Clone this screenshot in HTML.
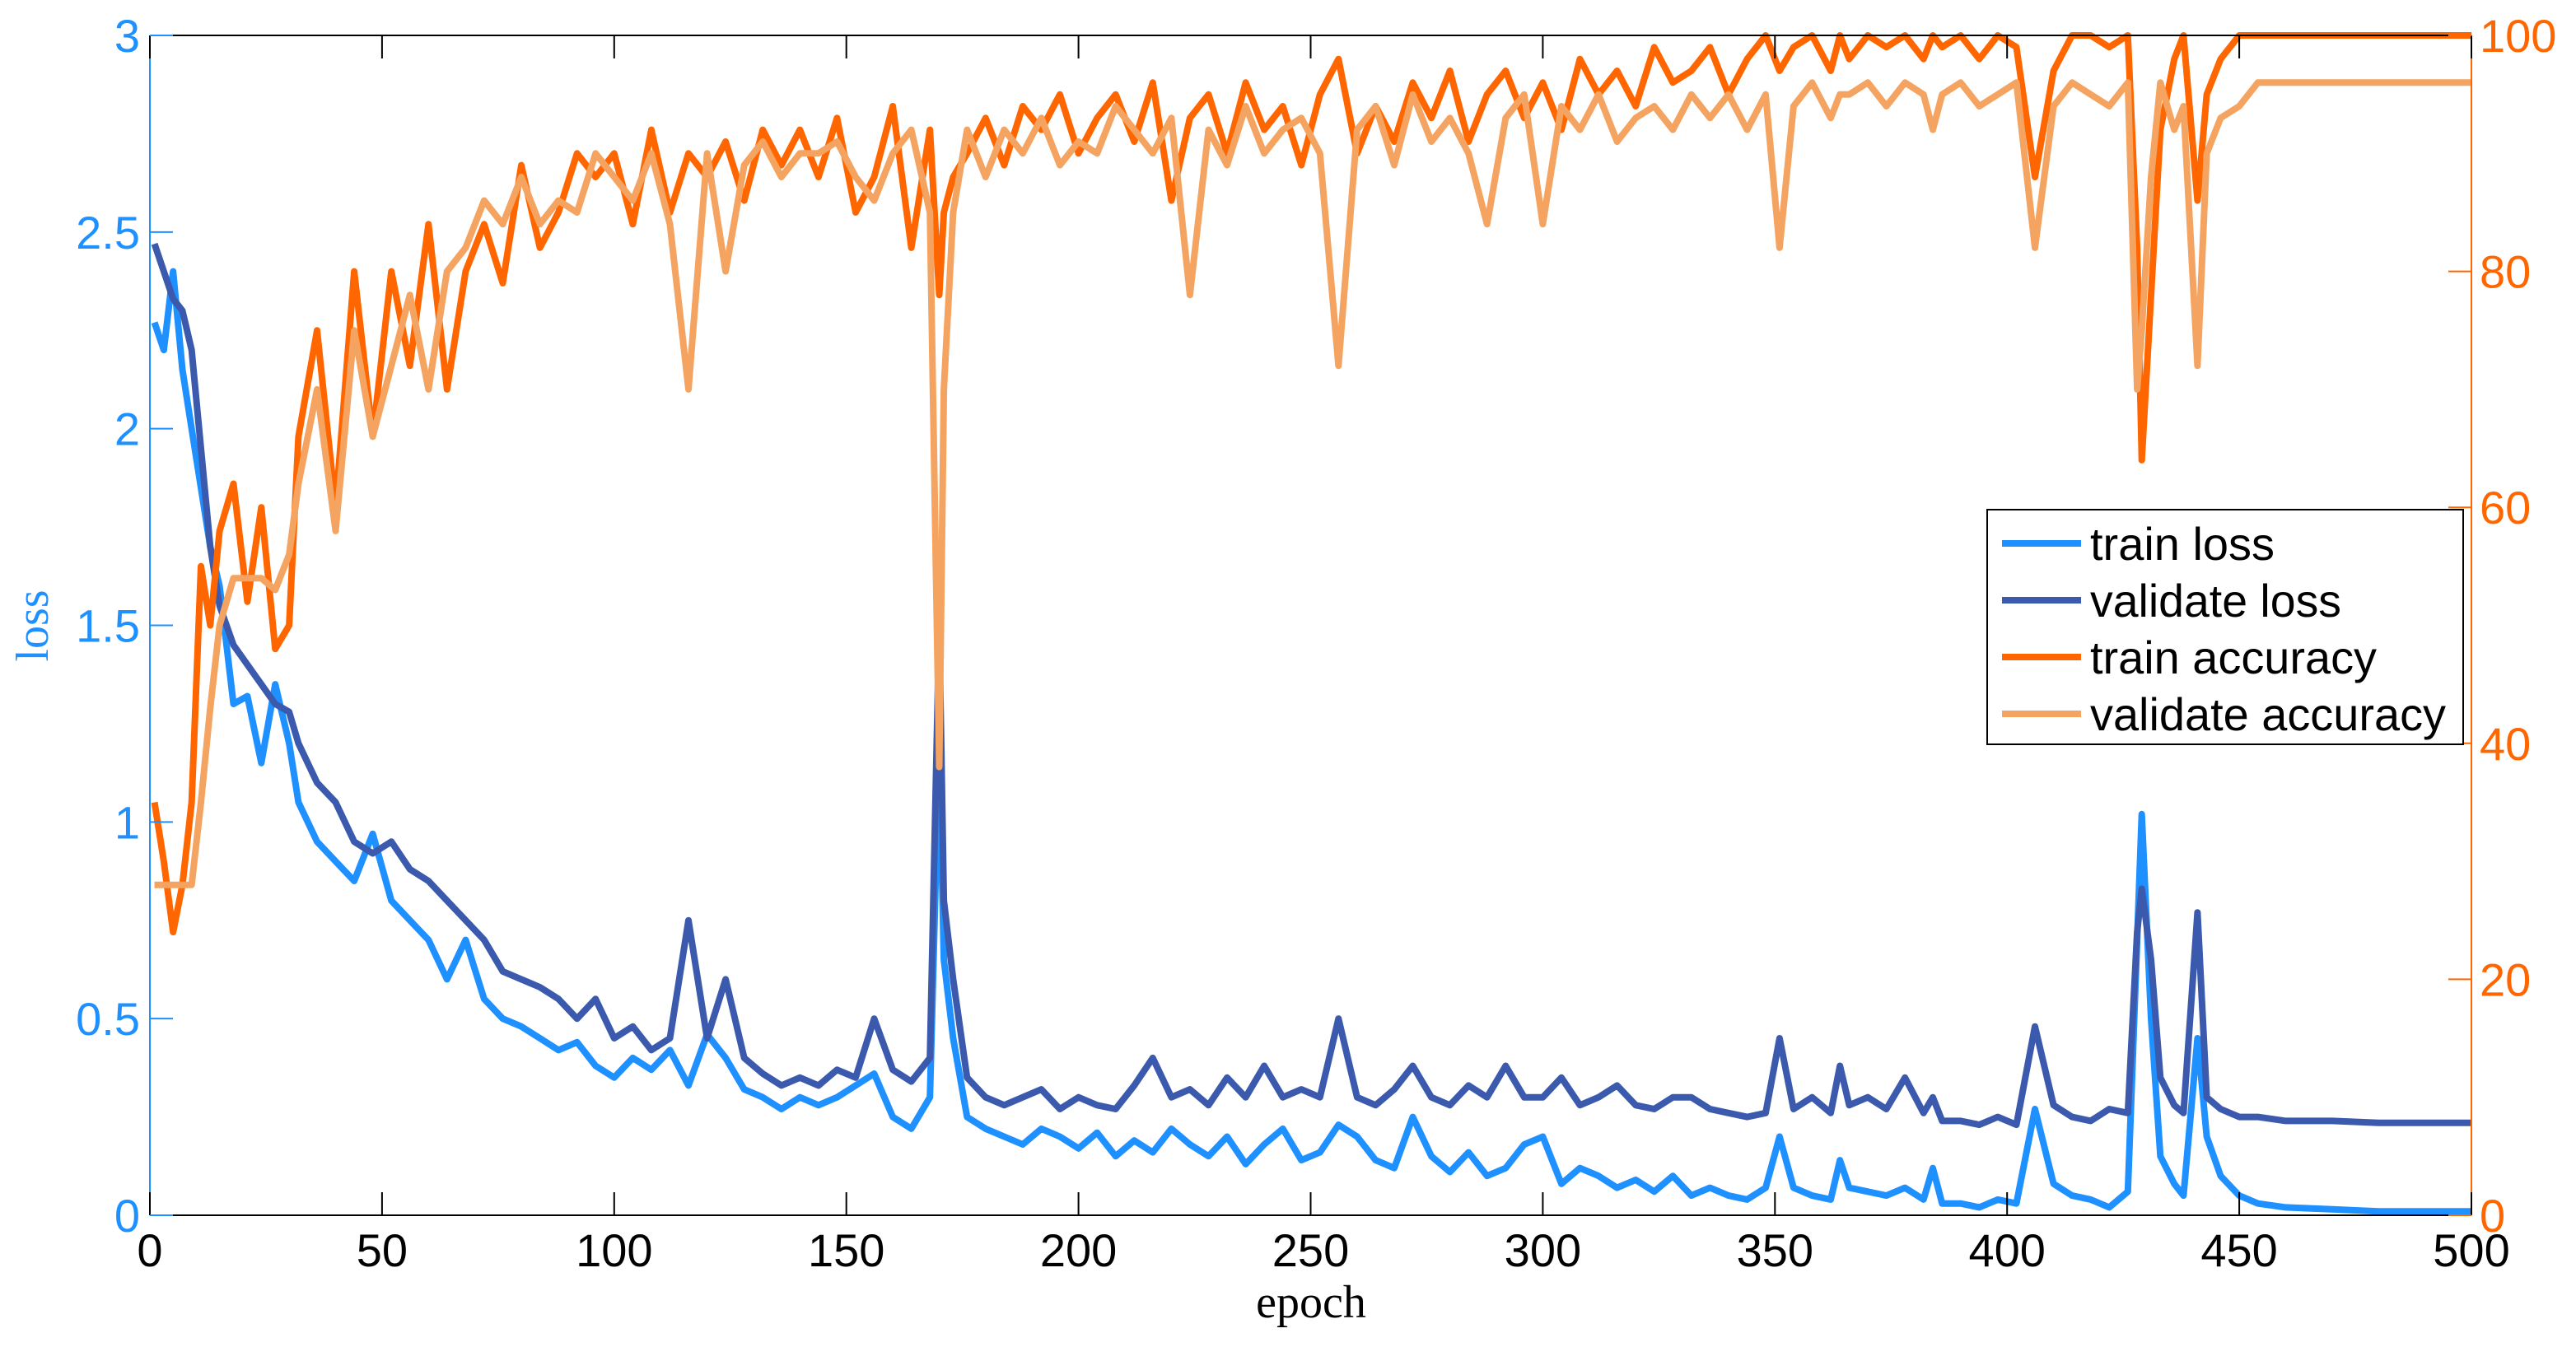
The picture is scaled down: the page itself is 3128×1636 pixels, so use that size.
<!DOCTYPE html>
<html><head><meta charset="utf-8"><style>
html,body{margin:0;padding:0;background:#fff;}
svg{display:block;font-family:"Liberation Sans",sans-serif;}
</style></head><body>
<svg id="chart" width="3128" height="1636" viewBox="0 0 3128 1636" xmlns="http://www.w3.org/2000/svg">
<rect x="0" y="0" width="3128" height="1636" fill="#fff"/>
<g id="series"></g>
<g id="axes"></g>
<text x="58" y="760" transform="rotate(-90 58 760)" text-anchor="middle" font-family="Liberation Serif, serif" font-size="56" fill="#1E90FF">loss</text>
<text x="1592" y="1600" text-anchor="middle" font-family="Liberation Serif, serif" font-size="56" fill="#000">epoch</text>
<g>
<rect x="2413" y="619" width="578" height="285" fill="#fff" stroke="#000" stroke-width="2"/>
<line x1="2431" y1="660" x2="2527" y2="660" stroke="#1E90FF" stroke-width="8"/>
<text x="2538" y="680" font-size="56" textLength="224" lengthAdjust="spacingAndGlyphs">train loss</text>
<line x1="2431" y1="729" x2="2527" y2="729" stroke="#3C5AAD" stroke-width="8"/>
<text x="2538" y="749" font-size="56" textLength="305" lengthAdjust="spacingAndGlyphs">validate loss</text>
<line x1="2431" y1="798" x2="2527" y2="798" stroke="#FF6600" stroke-width="8"/>
<text x="2538" y="818" font-size="56" textLength="348" lengthAdjust="spacingAndGlyphs">train accuracy</text>
<line x1="2431" y1="867" x2="2527" y2="867" stroke="#F4A460" stroke-width="8"/>
<text x="2538" y="887" font-size="56" textLength="432" lengthAdjust="spacingAndGlyphs">validate accuracy</text>
</g>
</svg>
<script>
const epochs = [1,3,5,7,9,11,13,15,18,21,
24,27,30,32,36,40,44,48,52,56,
60,64,68,72,76,80,84,88,92,96,
100,104,108,112,116,120,124,128,132,136,
140,144,148,152,156,160,164,168,170,171,
173,176,180,184,188,192,196,200,204,208,
212,216,220,224,228,232,236,240,244,248,
252,256,260,264,268,272,276,280,284,288,
292,296,300,304,308,312,316,320,324,328,
332,336,340,344,348,351,354,358,362,364,
366,370,374,378,382,384,386,390,394,398,
402,406,410,414,418,422,426,428,429,431,
433,436,438,441,443,446,450,454,460,470,
480,490,500];
const trainLoss = [2.27,2.2,2.4,2.15,2.0,1.85,1.7,1.6,1.3,1.32,
1.15,1.35,1.2,1.05,0.95,0.9,0.85,0.97,0.8,0.75,
0.7,0.6,0.7,0.55,0.5,0.48,0.45,0.42,0.44,0.38,
0.35,0.4,0.37,0.42,0.33,0.46,0.4,0.32,0.3,0.27,
0.3,0.28,0.3,0.33,0.36,0.25,0.22,0.3,1.2,0.65,
0.45,0.25,0.22,0.2,0.18,0.22,0.2,0.17,0.21,0.15,
0.19,0.16,0.22,0.18,0.15,0.2,0.13,0.18,0.22,0.14,
0.16,0.23,0.2,0.14,0.12,0.25,0.15,0.11,0.16,0.1,
0.12,0.18,0.2,0.08,0.12,0.1,0.07,0.09,0.06,0.1,
0.05,0.07,0.05,0.04,0.07,0.2,0.07,0.05,0.04,0.14,
0.07,0.06,0.05,0.07,0.04,0.12,0.03,0.03,0.02,0.04,
0.03,0.27,0.08,0.05,0.04,0.02,0.06,0.7,1.02,0.5,
0.15,0.08,0.05,0.45,0.2,0.1,0.05,0.03,0.02,0.015,
0.01,0.01,0.01];
const validateLoss = [2.47,2.4,2.33,2.3,2.2,1.95,1.7,1.55,1.45,1.4,
1.35,1.3,1.28,1.2,1.1,1.05,0.95,0.92,0.95,0.88,
0.85,0.8,0.75,0.7,0.62,0.6,0.58,0.55,0.5,0.55,
0.45,0.48,0.42,0.45,0.75,0.45,0.6,0.4,0.36,0.33,
0.35,0.33,0.37,0.35,0.5,0.37,0.34,0.4,1.5,0.8,
0.6,0.35,0.3,0.28,0.3,0.32,0.27,0.3,0.28,0.27,
0.33,0.4,0.3,0.32,0.28,0.35,0.3,0.38,0.3,0.32,
0.3,0.5,0.3,0.28,0.32,0.38,0.3,0.28,0.33,0.3,
0.38,0.3,0.3,0.35,0.28,0.3,0.33,0.28,0.27,0.3,
0.3,0.27,0.26,0.25,0.26,0.45,0.27,0.3,0.26,0.38,
0.28,0.3,0.27,0.35,0.26,0.3,0.24,0.24,0.23,0.25,
0.23,0.48,0.28,0.25,0.24,0.27,0.26,0.72,0.83,0.65,
0.35,0.28,0.26,0.77,0.3,0.27,0.25,0.25,0.24,0.24,
0.235,0.235,0.235];
const trainAcc = [35,30,24,28,35,55,50,58,62,52,
60,48,50,66,75,60,80,66,80,72,
84,70,80,84,79,89,82,85,90,88,
90,84,92,85,90,88,91,86,92,89,
92,88,93,85,88,94,82,92,78,85,
88,90,93,89,94,92,95,90,93,95,
91,96,86,93,95,90,96,92,94,89,
95,98,90,94,91,96,93,97,91,95,
97,93,96,92,98,95,97,94,99,96,
97,99,95,98,100,97,99,100,97,100,
98,100,99,100,98,100,99,100,98,100,
99,88,97,100,100,99,100,82,64,78,
92,98,100,86,95,98,100,100,100,100,
100,100,100];
const validateAcc = [28,28,28,28,28,35,43,50,54,54,
54,53,56,62,70,58,75,66,72,78,
70,80,82,86,84,88,84,86,85,90,
88,86,90,84,70,90,80,89,91,88,
90,90,91,88,86,90,92,85,38,70,
85,92,88,92,90,93,89,91,90,94,
92,90,93,78,92,89,94,90,92,93,
90,72,92,94,89,95,91,93,90,84,
93,95,84,94,92,95,91,93,94,92,
95,93,95,92,95,82,94,96,93,95,
95,96,94,96,95,92,95,96,94,95,
96,82,94,96,95,94,96,70,75,88,
96,92,94,72,90,93,94,96,96,96,
96,96,96];
const xTicks = [0,50,100,150,200,250,300,350,400,450,500];
const lossTicks = [0,0.5,1,1.5,2,2.5,3];
const lossTickLabels = ["0","0.5","1","1.5","2","2.5","3"];
const accTicks = [0,20,40,60,80,100];

const L=182,R=3001,T=43,B=1476;
const xs=e=>L+(e-0)/(500-0)*(R-L);
const yl=v=>B-v/3*(B-T);
const ya=v=>B-v/100*(B-T);
const NS="http://www.w3.org/2000/svg";
const sg=document.getElementById('series');
const ag=document.getElementById('axes');
function mk(tag,parent){const el=document.createElementNS(NS,tag);parent.appendChild(el);return el;}
function line(vals,yf,color,name){
  const p=mk('polyline',sg);
  p.setAttribute('points',epochs.map((e,i)=>xs(e).toFixed(1)+','+yf(vals[i]).toFixed(1)).join(' '));
  p.setAttribute('fill','none');p.setAttribute('stroke',color);p.setAttribute('stroke-width','8');
  p.setAttribute('stroke-linejoin','round');
  
  
}
line(trainLoss,yl,'#1E90FF','train-loss-line');
line(validateLoss,yl,'#3C5AAD','validate-loss-line');
line(trainAcc,ya,'#FF6600','train-accuracy-line');
line(validateAcc,ya,'#F4A460','validate-accuracy-line');

let f=mk('line',ag);f.setAttribute('x1',L);f.setAttribute('y1',T);f.setAttribute('x2',R);f.setAttribute('y2',T);f.setAttribute('stroke','#000');f.setAttribute('stroke-width','2');


f=mk('line',ag);f.setAttribute('x1',L);f.setAttribute('y1',B);f.setAttribute('x2',R);f.setAttribute('y2',B);f.setAttribute('stroke','#000');f.setAttribute('stroke-width','2');


f=mk('line',ag);f.setAttribute('x1',L);f.setAttribute('y1',T);f.setAttribute('x2',L);f.setAttribute('y2',B);f.setAttribute('stroke','#1E90FF');f.setAttribute('stroke-width','2');


f=mk('line',ag);f.setAttribute('x1',R);f.setAttribute('y1',T);f.setAttribute('x2',R);f.setAttribute('y2',B);f.setAttribute('stroke','#FF6600');f.setAttribute('stroke-width','2');



xTicks.forEach(t=>{
  const x=xs(t);
  const a=mk('line',ag);a.setAttribute('x1',x);a.setAttribute('x2',x);a.setAttribute('y1',B);a.setAttribute('y2',B-28);a.setAttribute('stroke','#000');a.setAttribute('stroke-width','2');
  
  
  const b=mk('line',ag);b.setAttribute('x1',x);b.setAttribute('x2',x);b.setAttribute('y1',T);b.setAttribute('y2',T+28);b.setAttribute('stroke','#000');b.setAttribute('stroke-width','2');
  
  
  const tx=mk('text',ag);tx.textContent=String(t);tx.setAttribute('x',x);tx.setAttribute('y',1538);tx.setAttribute('text-anchor','middle');tx.setAttribute('font-size','56');tx.setAttribute('fill','#000');
  
  
});
lossTicks.forEach((t,i)=>{
  const y=yl(t);
  const a=mk('line',ag);a.setAttribute('x1',L);a.setAttribute('x2',L+28);a.setAttribute('y1',y);a.setAttribute('y2',y);a.setAttribute('stroke','#1E90FF');a.setAttribute('stroke-width','2');
  
  
  const tx=mk('text',ag);tx.textContent=lossTickLabels[i];tx.setAttribute('x',170);tx.setAttribute('y',y+20);tx.setAttribute('text-anchor','end');tx.setAttribute('font-size','56');tx.setAttribute('fill','#1E90FF');
  
  
});
accTicks.forEach(t=>{
  const y=ya(t);
  const a=mk('line',ag);a.setAttribute('x1',R-28);a.setAttribute('x2',R);a.setAttribute('y1',y);a.setAttribute('y2',y);a.setAttribute('stroke','#FF6600');a.setAttribute('stroke-width','2');
  
  
  const tx=mk('text',ag);tx.textContent=String(t);tx.setAttribute('x',3011);tx.setAttribute('y',y+20);tx.setAttribute('text-anchor','start');tx.setAttribute('font-size','56');tx.setAttribute('fill','#FF6600');
  
  
});
</script>
</body></html>
